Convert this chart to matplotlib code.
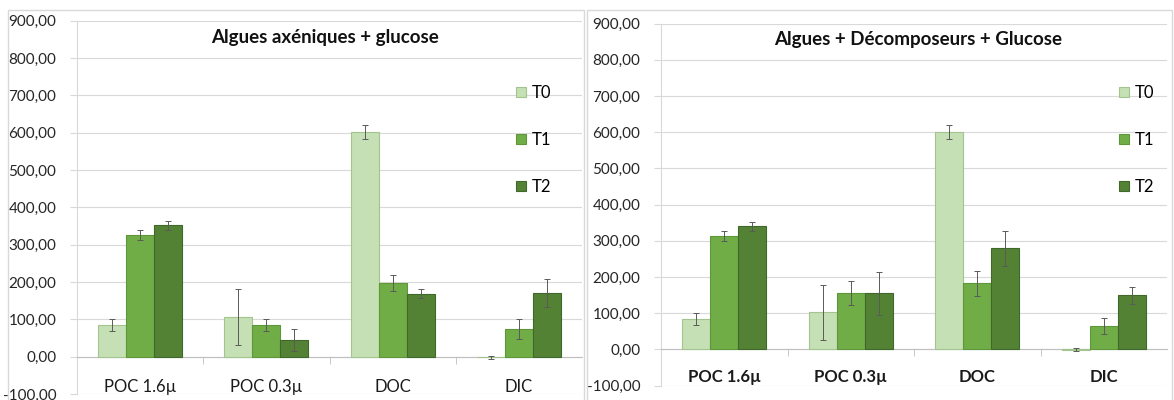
import matplotlib
matplotlib.use("Agg")
import matplotlib.pyplot as plt
from matplotlib.patches import Rectangle
from matplotlib.ticker import FixedLocator, FuncFormatter
import numpy as np

plt.rcParams['font.family'] = ['Lato', 'DejaVu Sans']

categories = ['POC 1.6µ', 'POC 0.3µ', 'DOC', 'DIC']
series = ['T0', 'T1', 'T2']

# Algues axéniques + glucose
axen_T0 = [84, 105, 602, -1]
axen_T1 = [326, 85, 198, 74]
axen_T2 = [352, 45, 169, 171]
axen_T0_err = [16, 75, 19, 4]
axen_T1_err = [14, 15, 21, 27]
axen_T2_err = [12, 29, 13, 37]

# Algues + Décomposeurs + Glucose
deco_T0 = [83, 102, 600, -1]
deco_T1 = [313, 155, 182, 65]
deco_T2 = [340, 155, 279, 149]
deco_T0_err = [16, 75, 19, 4]
deco_T1_err = [13, 34, 34, 22]
deco_T2_err = [12, 59, 49, 24]

colors = ['#C5E0B4', '#70AD47', '#548235']
edges = ['#A3C48E', '#5E963A', '#40682A']
grid_c = '#D9D9D9'

W, H = 1174, 400
fig = plt.figure(figsize=(W / 100, H / 100), dpi=100)

# panel frames
fig.add_artist(Rectangle((7.5 / W, -0.05), (584 - 7.5) / W, (400 - 10 + 20) / H,
                         transform=fig.transFigure, fill=False, ec=grid_c, lw=1))
fig.add_artist(Rectangle((587 / W, -0.05), (1172 - 587) / W, (400 - 10 + 20) / H,
                         transform=fig.transFigure, fill=False, ec=grid_c, lw=1))


def fmt(v, pos):
    return f"{v:.2f}".replace('.', ',')


def draw(rect, title, title_xy, vals, errs, bold_x, leg_anchor, ypad):
    ax = fig.add_axes(rect)
    x = np.arange(len(categories))
    w = 1 / 4.5
    for i, (v, e) in enumerate(zip(vals, errs)):
        ax.bar(x + (i - 1) * w, v, w, color=colors[i], edgecolor=edges[i],
               linewidth=0.8, label=series[i], zorder=3,
               yerr=e, ecolor='#5A5A5A',
               error_kw=dict(elinewidth=0.7, capsize=2, capthick=0.7, zorder=4))
    ax.set_xlim(-0.5, 3.5)
    ax.set_ylim(-100, 900)
    ax.set_yticks(np.arange(-100, 901, 100))
    ax.yaxis.set_major_formatter(FuncFormatter(fmt))
    ax.grid(axis='y', color=grid_c, lw=0.8, zorder=0)
    ax.set_axisbelow(True)
    for s in ['top', 'right']:
        ax.spines[s].set_visible(False)
    ax.spines['left'].set_color(grid_c)
    ax.spines['bottom'].set_position(('data', 0))
    ax.spines['bottom'].set_color('#BFBFBF')
    ax.set_xticks(x)
    ax.set_xticklabels(categories, fontweight='bold' if bold_x else 'normal')
    ax.xaxis.set_minor_locator(FixedLocator([0.5, 1.5, 2.5]))
    ax.tick_params(axis='x', which='major', length=0, labelsize=12,
                   pad=14 if bold_x else 16, colors='#1A1A1A')
    ax.tick_params(axis='x', which='minor', length=5, color='#BFBFBF')
    ax.tick_params(axis='y', length=5, color=grid_c, labelsize=11,
                   pad=ypad, labelcolor='#262626')
    ax.set_facecolor('none')
    fig.text(title_xy[0] / W, 1 - title_xy[1] / H, title, ha='center',
             va='center', fontsize=13.5, fontweight='bold', color='#111111')
    ax.legend(loc='upper left', bbox_to_anchor=leg_anchor,
              bbox_transform=fig.transFigure, frameon=False,
              handlelength=0.6, handleheight=0.6, handletextpad=0.35,
              labelspacing=1.85, fontsize=12, borderpad=0, borderaxespad=0)
    return ax


draw([77 / W, 6 / H, 505 / W, 373.3 / H], 'Algues axéniques + glucose', (325, 37),
     [axen_T0, axen_T1, axen_T2], [axen_T0_err, axen_T1_err, axen_T2_err],
     False, (516 / W, 1 - 85 / H), 10)
draw([661 / W, 14.5 / H, 506 / W, 362 / H], 'Algues + Décomposeurs + Glucose', (918, 40),
     [deco_T0, deco_T1, deco_T2], [deco_T0_err, deco_T1_err, deco_T2_err],
     True, (1119 / W, 1 - 85 / H), 10)

fig.savefig('out.png', dpi=100)
